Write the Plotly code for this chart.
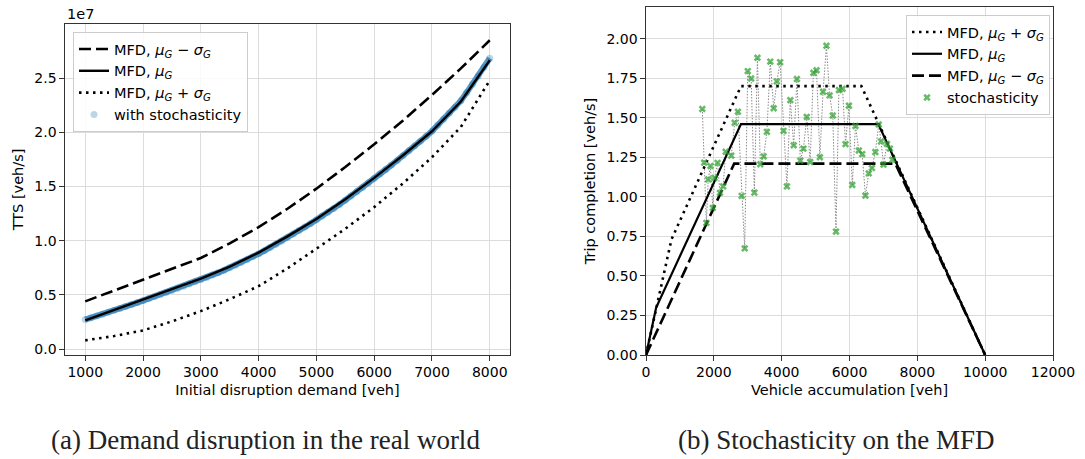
import plotly.graph_objects as go

# ---------------- Left panel data (TTS in units of 1e7) ----------------
demand = [1000, 1500, 2000, 2500, 3000, 3500, 4000, 4500, 5000, 5500, 6000, 6500, 7000, 7500, 8000]
tts_mu = [0.265, 0.360, 0.455, 0.550, 0.650, 0.760, 0.890, 1.040, 1.200, 1.382, 1.580, 1.789, 2.010, 2.285, 2.665]
tts_mu_minus_sigma = [0.440, 0.541, 0.640, 0.740, 0.840, 0.975, 1.125, 1.295, 1.480, 1.680, 1.890, 2.110, 2.345, 2.590, 2.850]
tts_mu_plus_sigma = [0.080, 0.120, 0.172, 0.255, 0.350, 0.460, 0.580, 0.745, 0.926, 1.110, 1.310, 1.530, 1.770, 2.050, 2.480]

stoch_demand = [1000, 1100, 1200, 1300, 1400, 1500, 1600, 1700, 1800, 1900,
                2000, 2100, 2200, 2300, 2400, 2500, 2600, 2700, 2800, 2900,
                3000, 3100, 3200, 3300, 3400, 3500, 3600, 3700, 3800, 3900,
                4000, 4100, 4200, 4300, 4400, 4500, 4600, 4700, 4800, 4900,
                5000, 5100, 5200, 5300, 5400, 5500, 5600, 5700, 5800, 5900,
                6000, 6100, 6200, 6300, 6400, 6500, 6600, 6700, 6800, 6900,
                7000, 7100, 7200, 7300, 7400, 7500, 7600, 7700, 7800, 7900, 8000]
stoch_tts = [0.272, 0.288, 0.305, 0.322, 0.340, 0.357, 0.375, 0.393, 0.411, 0.429,
             0.447, 0.466, 0.484, 0.503, 0.522, 0.541, 0.560, 0.580, 0.600, 0.620,
             0.640, 0.661, 0.683, 0.705, 0.727, 0.750, 0.774, 0.799, 0.825, 0.852,
             0.879, 0.908, 0.937, 0.967, 0.998, 1.030, 1.062, 1.094, 1.126, 1.159,
             1.192, 1.227, 1.262, 1.298, 1.335, 1.374, 1.412, 1.452, 1.492, 1.533,
             1.574, 1.615, 1.657, 1.699, 1.741, 1.785, 1.829, 1.873, 1.918, 1.964,
             2.011, 2.066, 2.121, 2.176, 2.232, 2.292, 2.367, 2.443, 2.520, 2.600, 2.685]

# ---------------- Right panel data (MFD) ----------------
acc_mu = [0, 300, 2800, 6850, 10000]
flow_mu = [0.0, 0.30, 1.46, 1.46, 0.0]
acc_plus = [0, 350, 750, 2800, 6350, 10000]
flow_plus = [0.0, 0.34, 0.73, 1.70, 1.70, 0.0]
acc_minus = [0, 2600, 7350, 10000]
flow_minus = [0.0, 1.21, 1.21, 0.0]

stoch_acc = [1660, 1715, 1780, 1835, 1900, 1970, 2020, 2110, 2180, 2275,
             2350, 2515, 2615, 2710, 2820, 2910, 3000, 3100, 3195, 3285,
             3370, 3470, 3565, 3665, 3765, 3858, 3955, 4055, 4155, 4255,
             4355, 4450, 4550, 4642, 4740, 4840, 4935, 5028, 5127, 5220,
             5320, 5413, 5507, 5601, 5688, 5795, 5883, 5983, 6082, 6176,
             6275, 6375, 6469, 6568, 6662, 6762, 6862, 6930, 7004, 7104,
             7192, 7266]
stoch_flow = [1.555, 1.216, 0.835, 1.110, 1.195, 0.930, 1.120, 1.215, 1.025, 1.066,
              1.285, 1.260, 1.468, 1.538, 1.006, 0.674, 1.795, 1.748, 1.027, 1.879,
              1.206, 1.256, 1.411, 1.855, 1.560, 1.730, 1.851, 1.417, 1.066, 1.611,
              1.326, 1.745, 1.229, 1.305, 1.505, 1.220, 1.784, 1.800, 1.250, 1.664,
              1.955, 1.641, 1.514, 0.780, 1.675, 1.683, 1.333, 1.576, 1.075, 1.448,
              1.293, 1.270, 1.008, 1.148, 1.182, 1.283, 1.457, 1.350, 1.204, 1.335,
              1.305, 1.234]

left_xticks = [1000, 2000, 3000, 4000, 5000, 6000, 7000, 8000]
left_yticks = [0.0, 0.5, 1.0, 1.5, 2.0, 2.5]
right_xticks = [0, 2000, 4000, 6000, 8000, 10000, 12000]
right_yticks = [0.0, 0.25, 0.5, 0.75, 1.0, 1.25, 1.5, 1.75, 2.0]

MU = "<i>μ</i><sub><i>G</i></sub>"
SG = "<i>σ</i><sub><i>G</i></sub>"
lab_minus = f"MFD, {MU} − {SG}"
lab_mu = f"MFD, {MU}"
lab_plus = f"MFD, {MU} + {SG}"

DASH = "12px,5px"
DOT = "2.5px,4.5px"
FONT = "DejaVu Sans"
FS = 14.5
TFS = 14

fig = go.Figure()

# Left panel: stochastic band (dense semi-transparent points)
fig.add_trace(go.Scatter(x=stoch_demand, y=stoch_tts, mode="lines", showlegend=False,
                         line=dict(color="rgba(31,119,180,0.75)", width=6),
                         xaxis="x", yaxis="y", hoverinfo="skip"))
fig.add_trace(go.Scatter(x=stoch_demand, y=stoch_tts, mode="markers", name="with stochasticity",
                         marker=dict(color="rgba(31,119,180,0.30)", size=7, line=dict(width=0)),
                         xaxis="x", yaxis="y", legend="legend", legendrank=4))
fig.add_trace(go.Scatter(x=demand, y=tts_mu_minus_sigma, mode="lines", name=lab_minus,
                         line=dict(color="black", width=2.6, dash=DASH),
                         xaxis="x", yaxis="y", legend="legend", legendrank=1))
fig.add_trace(go.Scatter(x=demand, y=tts_mu, mode="lines", name=lab_mu,
                         line=dict(color="black", width=2.4),
                         xaxis="x", yaxis="y", legend="legend", legendrank=2))
fig.add_trace(go.Scatter(x=demand, y=tts_mu_plus_sigma, mode="lines", name=lab_plus,
                         line=dict(color="black", width=2.6, dash=DOT),
                         xaxis="x", yaxis="y", legend="legend", legendrank=3))

# Right panel
fig.add_trace(go.Scatter(x=stoch_acc, y=stoch_flow, mode="lines", showlegend=False,
                         line=dict(color="#8a8a8a", width=1, dash="1.5px,1.5px"),
                         xaxis="x2", yaxis="y2", hoverinfo="skip"))
fig.add_trace(go.Scatter(x=acc_plus, y=flow_plus, mode="lines", name=lab_plus,
                         line=dict(color="black", width=2.6, dash=DOT),
                         xaxis="x2", yaxis="y2", legend="legend2", legendrank=1))
fig.add_trace(go.Scatter(x=acc_mu, y=flow_mu, mode="lines", name=lab_mu,
                         line=dict(color="black", width=2.2),
                         xaxis="x2", yaxis="y2", legend="legend2", legendrank=2))
fig.add_trace(go.Scatter(x=acc_minus, y=flow_minus, mode="lines", name=lab_minus,
                         line=dict(color="black", width=2.6, dash=DASH),
                         xaxis="x2", yaxis="y2", legend="legend2", legendrank=3))
fig.add_trace(go.Scatter(x=stoch_acc, y=stoch_flow, mode="markers", name="stochasticity",
                         marker=dict(color="rgba(44,160,44,0.72)", size=6.5, symbol="x",
                                     line=dict(width=0)),
                         xaxis="x2", yaxis="y2", legend="legend2", legendrank=4))

W, H = 1085, 459
def px_x(p):
    return p / W
def px_y(p):
    return 1 - p / H

axis_common = dict(showgrid=True, gridcolor="#dcdcdc", gridwidth=1, showline=True, mirror=True,
                   linecolor="#333333", linewidth=1.2, ticks="outside", ticklen=4.5,
                   tickcolor="#333333", zeroline=False, automargin=False,
                   tickfont=dict(family=FONT, size=TFS, color="black"))

fig.update_layout(
    width=W, height=H,
    margin=dict(l=0, r=0, t=0, b=0),
    paper_bgcolor="white", plot_bgcolor="white",
    font=dict(family=FONT, size=FS, color="black"),
    xaxis=dict(domain=[px_x(65), px_x(510)], range=[650, 8350], tickvals=left_xticks,
               tickformat="d",
               title=dict(text="Initial disruption demand [veh]", standoff=5,
                          font=dict(family=FONT, size=FS)), anchor="y", **axis_common),
    yaxis=dict(domain=[px_y(355), px_y(24)], range=[-0.055, 3.0], tickvals=left_yticks,
               tickformat=".1f",
               title=dict(text="TTS [veh/s]", standoff=7, font=dict(family=FONT, size=FS)),
               anchor="x", **axis_common),
    xaxis2=dict(domain=[px_x(646), px_x(1053)], range=[0, 12000], tickvals=right_xticks,
                tickformat="d",
                title=dict(text="Vehicle accumulation [veh]", standoff=5,
                           font=dict(family=FONT, size=FS)), anchor="y2", **axis_common),
    yaxis2=dict(domain=[px_y(355), px_y(7)], range=[0, 2.2], tickvals=right_yticks,
                tickformat=".2f",
                title=dict(text="Trip completion [veh/s]", standoff=7,
                           font=dict(family=FONT, size=FS)),
                anchor="x2", **axis_common),
    legend=dict(x=px_x(73), y=px_y(32), xanchor="left", yanchor="top",
                bgcolor="rgba(255,255,255,0.85)", bordercolor="#cccccc", borderwidth=1,
                font=dict(family=FONT, size=FS)),
    legend2=dict(x=px_x(1050), y=px_y(15), xanchor="right", yanchor="top",
                 bgcolor="rgba(255,255,255,0.85)", bordercolor="#cccccc", borderwidth=1,
                 font=dict(family=FONT, size=FS)),
    showlegend=True,
)

fig.add_annotation(text="1e7", x=px_x(65), y=px_y(14), xref="paper", yref="paper",
                   xanchor="left", yanchor="middle", showarrow=False,
                   font=dict(family=FONT, size=FS))
fig.add_annotation(text="(a) Demand disruption in the real world", x=px_x(265), y=px_y(440),
                   xref="paper", yref="paper", xanchor="center", yanchor="middle",
                   showarrow=False, font=dict(family="Liberation Serif", size=27, color="#222222"))
fig.add_annotation(text="(b) Stochasticity on the MFD", x=px_x(836), y=px_y(440),
                   xref="paper", yref="paper", xanchor="center", yanchor="middle",
                   showarrow=False, font=dict(family="Liberation Serif", size=27, color="#222222"))

fig.write_html("out.html", config={"displayModeBar": False},
               post_script="document.body.style.margin='0px';")
